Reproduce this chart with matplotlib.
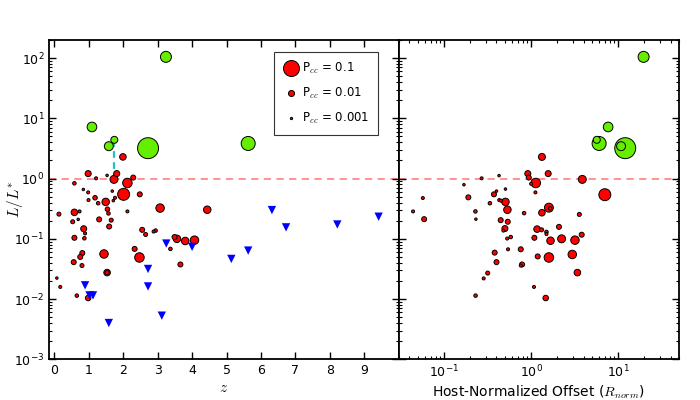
import numpy as np
import matplotlib
matplotlib.use("Agg")
import matplotlib.pyplot as plt
from matplotlib.lines import Line2D
from matplotlib.ticker import LogLocator, NullFormatter

plt.rcParams['font.family'] = ['DejaVu Sans']
plt.rcParams['mathtext.fontset'] = 'cm'

# ---------------- data ----------------
# Red (detected host) points, left panel: redshift, L/L*, chance-coincidence probability
red_z = [0.98, 1.21, 1.53, 1.81, 1.73, 2.12, 2.29, 2.01, 2.48, 0.58, 0.84, 0.98, 1.68,
         1.18, 0.99, 1.49, 1.27, 1.76, 1.71, 1.54, 1.57, 2.12, 0.58, 0.73, 0.13, 3.07,
         4.44, 0.53, 0.69, 1.30, 1.65, 0.85, 0.89, 1.59, 2.55, 2.65, 2.88, 2.94, 0.58,
         0.87, 3.49, 3.56, 3.80, 4.07, 3.37, 2.33, 0.81, 0.75, 1.44, 2.47, 0.56, 0.80,
         3.66, 1.53, 1.53, 0.07, 0.17, 0.65, 0.98, 1.99]
red_L = [1.21, 1.01, 1.13, 1.21, 0.97, 0.845, 1.04, 0.548, 0.548, 0.835, 0.66, 0.59, 0.62,
         0.48, 0.44, 0.41, 0.39, 0.48, 0.43, 0.31, 0.264, 0.285, 0.275, 0.285, 0.257, 0.324,
         0.304, 0.192, 0.21, 0.21, 0.204, 0.147, 0.123, 0.16, 0.141, 0.118, 0.132, 0.137, 0.104,
         0.102, 0.107, 0.10, 0.092, 0.095, 0.068, 0.068, 0.058, 0.050, 0.056, 0.049, 0.041, 0.036,
         0.0375, 0.0275, 0.0275, 0.0223, 0.0159, 0.0114, 0.0104, 2.29]
red_P = [0.01, 0.002, 0.0012, 0.01, 0.019, 0.029, 0.0063, 0.05, 0.0063, 0.0027, 0.0012, 0.0019, 0.0012,
         0.0049, 0.0019, 0.0165, 0.0027, 0.0019, 0.0012, 0.0049, 0.0027, 0.0019, 0.012, 0.0019, 0.0037, 0.022,
         0.0165, 0.0037, 0.0012, 0.0063, 0.0037, 0.0097, 0.0019, 0.0063, 0.0063, 0.0037, 0.0019, 0.0027, 0.0063,
         0.0027, 0.0063, 0.0165, 0.0165, 0.022, 0.0027, 0.0063, 0.0063, 0.0063, 0.022, 0.029, 0.0063, 0.0037,
         0.0063, 0.012, 0.0037, 0.0012, 0.0019, 0.0027, 0.0079, 0.012]

# Red points, right panel: host-normalized offset, L/L*, P_cc
red_off_r = [1.33, 0.916, 0.94, 1.13, 1.0, 1.57, 3.87, 0.27, 0.428, 0.169, 1.12, 7.03, 0.057,
             0.044, 0.059, 0.19, 0.229, 0.232, 0.23, 0.285, 0.317, 0.374, 0.40, 0.336, 0.43, 0.45,
             0.507, 0.507, 0.534, 0.447, 0.539, 0.50, 0.48, 0.53, 0.583, 0.543, 0.381, 0.40, 0.76,
             0.787, 0.76, 0.83, 1.08, 1.47, 1.33, 1.60, 1.65, 1.17, 1.32, 1.5, 1.5, 1.09, 1.67,
             2.24, 3.19, 2.09, 3.58, 3.81, 1.19, 1.60, 2.97, 3.40]
red_L_r = [2.29, 1.21, 1.04, 0.845, 0.82, 1.21, 0.97, 1.01, 1.12, 0.79, 0.59, 0.54, 0.475,
           0.285, 0.212, 0.488, 0.285, 0.212, 0.0114, 0.022, 0.027, 0.548, 0.62, 0.39, 0.44, 0.43,
           0.67, 0.41, 0.304, 0.204, 0.192, 0.148, 0.137, 0.101, 0.107, 0.067, 0.059, 0.041, 0.067,
           0.0375, 0.036, 0.267, 0.0159, 0.0104, 0.271, 0.329, 0.32, 0.145, 0.141, 0.13, 0.12, 0.104, 0.093,
           0.10, 0.095, 0.158, 0.254, 0.117, 0.051, 0.049, 0.055, 0.0275]
red_P_r = [0.014, 0.0097, 0.0063, 0.029, 0.0019, 0.0097, 0.019, 0.0019, 0.0012, 0.0012, 0.0019, 0.05, 0.0019,
           0.0019, 0.0063, 0.0063, 0.0027, 0.0012, 0.0027, 0.0019, 0.0037, 0.0063, 0.0012, 0.0027, 0.0019, 0.0019,
           0.0012, 0.0165, 0.0165, 0.0063, 0.0063, 0.0097, 0.0019, 0.0019, 0.0027, 0.0019, 0.0063, 0.0063, 0.0063,
           0.0063, 0.0019, 0.0027, 0.0019, 0.0079, 0.012, 0.025, 0.0027, 0.012, 0.0037, 0.0027, 0.0019, 0.0063, 0.0165,
           0.019, 0.022, 0.0063, 0.0037, 0.0063, 0.0063, 0.029, 0.022, 0.012]

# Green (super-luminous hosts): z, offset, L/L*, P_cc
green_z = [1.09, 1.58, 1.74, 2.72, 3.24, 5.63]
green_off = [7.67, 10.8, 5.68, 12.05, 19.6, 6.04]
green_L = [7.2, 3.45, 4.4, 3.2, 105.0, 3.83]
green_P = [0.03, 0.025, 0.014, 0.19, 0.041, 0.073]

# Blue triangles (upper limits): z, L/L*
blue_z = [0.89, 1.02, 1.12, 1.58, 2.72, 2.72, 3.12, 3.25, 4.00, 5.14, 5.63, 6.32, 6.73, 8.22, 9.42]
blue_L = [0.0169, 0.0115, 0.0115, 0.0040, 0.0316, 0.0162, 0.0053, 0.0835, 0.0736, 0.0464, 0.0638,
          0.30, 0.155, 0.173, 0.233]

# Dashed connector (same object at two luminosities)
link_z = [1.74, 1.74]
link_L = [4.4, 0.97]

legend_P = [0.1, 0.01, 0.001]
legend_labels = ['P$_{cc}$ = 0.1', 'P$_{cc}$ = 0.01', 'P$_{cc}$ = 0.001']
z_ticks = list(range(0, 10))


def msize(p):
    # marker diameter in points from P_cc
    d_px = 16.0 * (np.asarray(p) / 0.1) ** 0.42
    return d_px * 0.72


RED = '#ff0000'
GREEN = '#66ee00'
BLUE = '#0000ff'

fig = plt.figure(figsize=(7, 4), dpi=100)
ax1 = fig.add_axes([0.0704, 0.1018, 0.4990, 0.7982])
ax2 = fig.add_axes([0.5694, 0.1018, 0.4006, 0.7982], sharey=ax1)


def scatter(ax, x, y, p, color, z=3):
    x = np.asarray(x); y = np.asarray(y); p = np.asarray(p)
    order = np.argsort(-p)
    ax.scatter(x[order], y[order], s=msize(p[order]) ** 2, c=color,
               edgecolors='black', linewidths=0.7, zorder=z)


for ax in (ax1, ax2):
    ax.set_yscale('log')
    ax.axhline(1.0, color='#ff8a8a', ls='--', lw=1.3, dashes=(4, 3), zorder=1)
    for sp in ax.spines.values():
        sp.set_linewidth(1.3)
    ax.tick_params(which='both', direction='in', top=True, right=True, labelsize=9)
    ax.tick_params(which='major', length=5, width=1)
    ax.tick_params(which='minor', length=2.5, width=0.8)

# Left panel
ax1.plot(link_z, link_L, color='#22c0c0', ls='--', lw=1.6, dashes=(3, 2), zorder=2)
scatter(ax1, red_z, red_L, red_P, RED)
scatter(ax1, green_z, green_L, green_P, GREEN)
ax1.scatter(blue_z, blue_L, marker='v', s=36, c=BLUE, edgecolors='none', zorder=3)
ax1.set_xlim(-0.15, 10.0)
ax1.set_ylim(1e-3, 200)
ax1.set_xticks(z_ticks)
ax1.set_xlabel('$z$', fontsize=11, labelpad=2)
ax1.set_ylabel('$L/L^{*}$', fontsize=11)
ax1.yaxis.set_label_coords(-0.07, 0.5)
ax1.yaxis.set_minor_locator(LogLocator(base=10, subs=np.arange(2, 10), numticks=20))
ax1.yaxis.set_minor_formatter(NullFormatter())

handles = [Line2D([], [], ls='none', marker='o', markersize=float(msize(p)),
                  markerfacecolor=RED, markeredgecolor='black', markeredgewidth=0.7)
           for p in legend_P]
leg = ax1.legend(handles, legend_labels, loc='upper right', bbox_to_anchor=(0.942, 0.963),
                 fontsize=8.5, frameon=True, fancybox=False, labelspacing=0.85,
                 borderpad=0.75, handletextpad=0.2, handlelength=1.4, borderaxespad=0)
leg.get_frame().set_edgecolor('black')
leg.get_frame().set_linewidth(0.8)

# Right panel
scatter(ax2, red_off_r, red_L_r, red_P_r, RED)
scatter(ax2, green_off, green_L, green_P, GREEN)
ax2.set_xscale('log')
ax2.set_xlim(0.03, 50)
ax2.set_ylim(1e-3, 200)
ax2.set_xlabel('Host-Normalized Offset ($R_{norm}$)', fontsize=10, labelpad=2)
plt.setp(ax2.get_yticklabels(), visible=False)

fig.savefig('out.png', dpi=100, facecolor='white')
